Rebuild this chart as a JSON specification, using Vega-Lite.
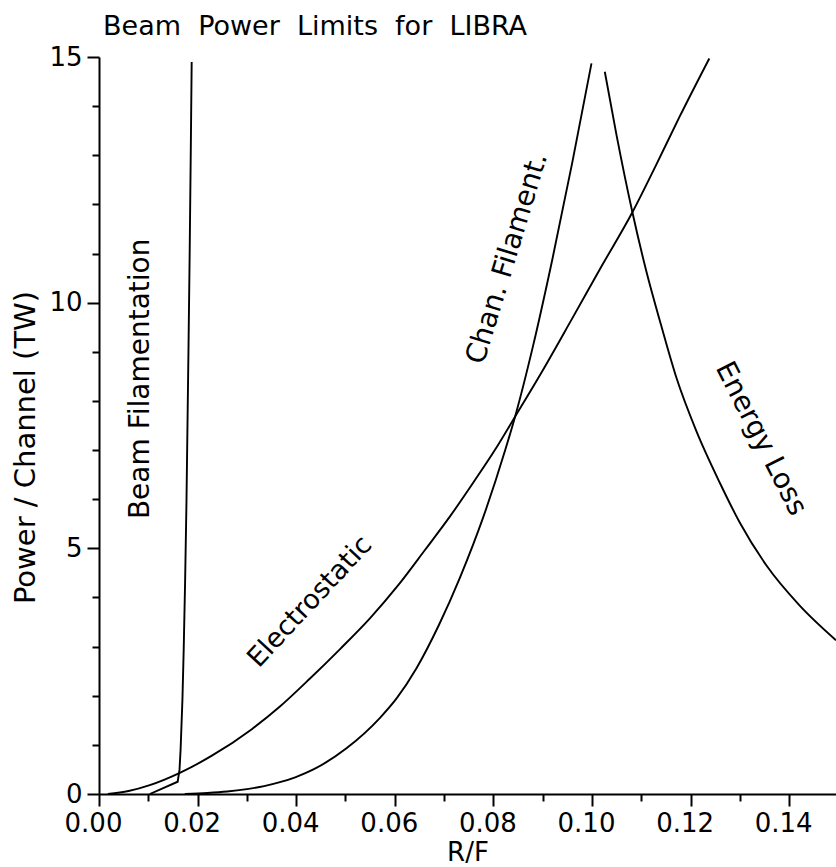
{
  "$schema": "https://vega.github.io/schema/vega-lite/v6.json",
  "width": 737,
  "height": 737,
  "autosize": "none",
  "padding": {"left": 99, "top": 57, "right": 0, "bottom": 73},
  "background": "white",
  "config": {
    "view": {"stroke": null},
    "font": "DejaVu Sans",
    "axis": {"labelColor": "black", "titleColor": "black", "domainColor": "black", "tickColor": "black", "grid": false}
  },
  "title": {
    "text": "Beam\u00a0 Power\u00a0 Limits\u00a0 for\u00a0 LIBRA",
    "anchor": "start",
    "frame": "group",
    "dx": 4,
    "offset": -24,
    "baseline": "bottom",
    "fontSize": 27,
    "fontWeight": "normal",
    "font": "DejaVu Sans",
    "color": "black"
  },
  "datasets": {
    "curves": [
      {"series": "Beam Filamentation", "rf": 0.0103, "power": 0},
      {"series": "Beam Filamentation", "rf": 0.01596, "power": 0.25},
      {"series": "Beam Filamentation", "rf": 0.01633, "power": 0.49},
      {"series": "Beam Filamentation", "rf": 0.01655, "power": 0.90},
      {"series": "Beam Filamentation", "rf": 0.01692, "power": 1.91},
      {"series": "Beam Filamentation", "rf": 0.01718, "power": 2.93},
      {"series": "Beam Filamentation", "rf": 0.01746, "power": 4.29},
      {"series": "Beam Filamentation", "rf": 0.01775, "power": 5.98},
      {"series": "Beam Filamentation", "rf": 0.01815, "power": 9.04},
      {"series": "Beam Filamentation", "rf": 0.01840, "power": 11.07},
      {"series": "Beam Filamentation", "rf": 0.01862, "power": 13.11},
      {"series": "Beam Filamentation", "rf": 0.01880, "power": 14.90},
      {"series": "Electrostatic", "rf": 0.0018, "power": 0},
      {"series": "Electrostatic", "rf": 0.0060, "power": 0.06},
      {"series": "Electrostatic", "rf": 0.0103, "power": 0.18},
      {"series": "Electrostatic", "rf": 0.0164, "power": 0.43},
      {"series": "Electrostatic", "rf": 0.0229, "power": 0.78},
      {"series": "Electrostatic", "rf": 0.0310, "power": 1.32},
      {"series": "Electrostatic", "rf": 0.0367, "power": 1.78},
      {"series": "Electrostatic", "rf": 0.0428, "power": 2.35},
      {"series": "Electrostatic", "rf": 0.0489, "power": 2.95},
      {"series": "Electrostatic", "rf": 0.0550, "power": 3.58},
      {"series": "Electrostatic", "rf": 0.0607, "power": 4.25},
      {"series": "Electrostatic", "rf": 0.0660, "power": 4.95},
      {"series": "Electrostatic", "rf": 0.0712, "power": 5.65},
      {"series": "Electrostatic", "rf": 0.0760, "power": 6.35},
      {"series": "Electrostatic", "rf": 0.0803, "power": 7.00},
      {"series": "Electrostatic", "rf": 0.0844, "power": 7.68},
      {"series": "Electrostatic", "rf": 0.0900, "power": 8.62},
      {"series": "Electrostatic", "rf": 0.0960, "power": 9.68},
      {"series": "Electrostatic", "rf": 0.1020, "power": 10.75},
      {"series": "Electrostatic", "rf": 0.1082, "power": 11.84},
      {"series": "Electrostatic", "rf": 0.1130, "power": 12.80},
      {"series": "Electrostatic", "rf": 0.1178, "power": 13.79},
      {"series": "Electrostatic", "rf": 0.1238, "power": 14.97},
      {"series": "Chan. Filament.", "rf": 0.0174, "power": 0},
      {"series": "Chan. Filament.", "rf": 0.0220, "power": 0.02},
      {"series": "Chan. Filament.", "rf": 0.0260, "power": 0.05},
      {"series": "Chan. Filament.", "rf": 0.0300, "power": 0.10},
      {"series": "Chan. Filament.", "rf": 0.0335, "power": 0.16},
      {"series": "Chan. Filament.", "rf": 0.0367, "power": 0.24},
      {"series": "Chan. Filament.", "rf": 0.0398, "power": 0.34},
      {"series": "Chan. Filament.", "rf": 0.0435, "power": 0.50},
      {"series": "Chan. Filament.", "rf": 0.0502, "power": 0.93},
      {"series": "Chan. Filament.", "rf": 0.0570, "power": 1.55},
      {"series": "Chan. Filament.", "rf": 0.0604, "power": 1.95},
      {"series": "Chan. Filament.", "rf": 0.0644, "power": 2.56},
      {"series": "Chan. Filament.", "rf": 0.0690, "power": 3.45},
      {"series": "Chan. Filament.", "rf": 0.0732, "power": 4.40},
      {"series": "Chan. Filament.", "rf": 0.0780, "power": 5.65},
      {"series": "Chan. Filament.", "rf": 0.0824, "power": 7.00},
      {"series": "Chan. Filament.", "rf": 0.0844, "power": 7.68},
      {"series": "Chan. Filament.", "rf": 0.0880, "power": 9.10},
      {"series": "Chan. Filament.", "rf": 0.0920, "power": 10.90},
      {"series": "Chan. Filament.", "rf": 0.0960, "power": 12.85},
      {"series": "Chan. Filament.", "rf": 0.0999, "power": 14.87},
      {"series": "Energy Loss", "rf": 0.1026, "power": 14.70},
      {"series": "Energy Loss", "rf": 0.1050, "power": 13.40},
      {"series": "Energy Loss", "rf": 0.1082, "power": 11.84},
      {"series": "Energy Loss", "rf": 0.1110, "power": 10.65},
      {"series": "Energy Loss", "rf": 0.1140, "power": 9.55},
      {"series": "Energy Loss", "rf": 0.1172, "power": 8.45},
      {"series": "Energy Loss", "rf": 0.1212, "power": 7.38},
      {"series": "Energy Loss", "rf": 0.1260, "power": 6.32},
      {"series": "Energy Loss", "rf": 0.1300, "power": 5.52},
      {"series": "Energy Loss", "rf": 0.1354, "power": 4.65},
      {"series": "Energy Loss", "rf": 0.1420, "power": 3.85},
      {"series": "Energy Loss", "rf": 0.1495, "power": 3.13}
    ],
    "labels": [
      {"label": "Beam Filamentation", "rf": 0.0086, "power": 8.45},
      {"label": "Electrostatic", "rf": 0.0428, "power": 3.91},
      {"label": "Chan. Filament.", "rf": 0.0829, "power": 10.90},
      {"label": "Energy Loss", "rf": 0.1342, "power": 7.23}
    ]
  },
  "encoding": {
    "x": {
      "field": "rf", "type": "quantitative",
      "scale": {"domain": [0, 0.1495], "nice": false, "zero": false},
      "axis": {
        "values": [0, 0.01, 0.02, 0.03, 0.04, 0.05, 0.06, 0.07, 0.08, 0.09, 0.10, 0.11, 0.12, 0.13, 0.14],
        "labelExpr": "round(datum.value*100) % 2 == 0 ? format(datum.value, '.2f') : ''",
        "tickSize": {"condition": {"test": "round(datum.value*100) % 2 == 0", "value": 12}, "value": 7},
        "tickWidth": 2,
        "domainWidth": 2,
        "labelFontSize": 26,
        "labelPadding": 4,
        "labelOffset": -6,
        "labelOverlap": false,
        "labelFlush": false,
        "title": "R/F",
        "titleFontSize": 26,
        "titleFontWeight": "normal",
        "titleBaseline": "alphabetic",
        "titleAnchor": "middle",
        "titleY": 66
      }
    },
    "y": {
      "field": "power", "type": "quantitative",
      "scale": {"domain": [0, 15], "nice": false},
      "axis": {
        "values": [0, 1, 2, 3, 4, 5, 6, 7, 8, 9, 10, 11, 12, 13, 14, 15],
        "labelExpr": "datum.value % 5 == 0 ? datum.label : ''",
        "tickSize": {"condition": {"test": "datum.value % 5 == 0", "value": 12}, "value": 7},
        "tickWidth": 2,
        "domainWidth": 2,
        "labelFontSize": 26,
        "labelPadding": 5,
        "labelOverlap": false,
        "labelFlush": false,
        "title": "Power / Channel (TW)",
        "titleFontSize": 29,
        "titleFontWeight": "normal",
        "titleAngle": -90,
        "titleBaseline": "middle",
        "titleAlign": "center",
        "titleX": -74,
        "titleY": 390
      }
    }
  },
  "layer": [
    {
      "data": {"name": "curves"},
      "transform": [{"filter": "datum.series != 'Beam Filamentation'"}],
      "mark": {"type": "line", "color": "black", "strokeWidth": 1.9, "interpolate": "monotone", "clip": true},
      "encoding": {"detail": {"field": "series", "type": "nominal"}}
    },
    {
      "data": {"name": "curves"},
      "transform": [{"filter": "datum.series == 'Beam Filamentation'"}],
      "mark": {"type": "line", "color": "black", "strokeWidth": 1.9, "interpolate": "linear", "clip": true},
      "encoding": {"detail": {"field": "series", "type": "nominal"}}
    },
    {
      "data": {"values": [{}]},
      "mark": {"type": "rule", "color": "black", "strokeWidth": 2},
      "encoding": {"y": {"datum": 15}, "x": null}
    },
    {
      "data": {"name": "labels"},
      "transform": [{"filter": "datum.label == 'Beam Filamentation'"}],
      "mark": {"type": "text", "angle": -90, "fontSize": 28, "align": "center", "baseline": "middle", "color": "black"},
      "encoding": {"text": {"field": "label"}}
    },
    {
      "data": {"name": "labels"},
      "transform": [{"filter": "datum.label == 'Electrostatic'"}],
      "mark": {"type": "text", "angle": -47, "fontSize": 27, "align": "center", "baseline": "middle", "color": "black"},
      "encoding": {"text": {"field": "label"}}
    },
    {
      "data": {"name": "labels"},
      "transform": [{"filter": "datum.label == 'Chan. Filament.'"}],
      "mark": {"type": "text", "angle": -73, "fontSize": 28, "align": "center", "baseline": "middle", "color": "black"},
      "encoding": {"text": {"field": "label"}}
    },
    {
      "data": {"name": "labels"},
      "transform": [{"filter": "datum.label == 'Energy Loss'"}],
      "mark": {"type": "text", "angle": 63, "fontSize": 28, "align": "center", "baseline": "middle", "color": "black"},
      "encoding": {"text": {"field": "label"}}
    }
  ]
}
